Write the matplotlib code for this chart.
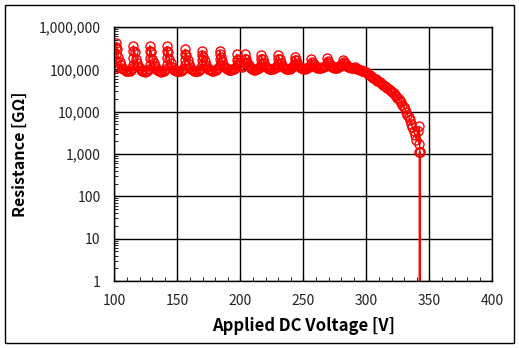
import matplotlib
matplotlib.use('Agg')
import matplotlib.pyplot as plt
from matplotlib.patches import Rectangle
from matplotlib.ticker import FuncFormatter, LogLocator, MultipleLocator

plt.rcParams['font.family'] = ['Noto Sans CJK KR', 'DejaVu Sans']

# applied voltage [V]; repeated values are readings held at one step
volts = [
    100, 101, 101.5, 101.5, 101.5, 101.5, 102, 103, 104, 105, 106, 107, 108, 109, 110, 111, 112, 113, 114,
    115, 115, 115, 115, 116, 117, 118, 119, 120, 121, 122, 123, 124, 125, 126, 127,
    128, 128, 128, 128, 129, 130, 131, 132, 133, 134, 135, 136, 137, 138, 139, 140,
    141.5, 141.5, 141.5, 141.5, 142.5, 143.5, 144.5, 145.5, 146.5, 147.5, 148.5, 149.5, 150.5, 151.5, 152.5, 153.5, 154.5,
    156, 156, 156, 156, 157, 158, 159, 160, 161, 162, 163, 164, 165, 166, 167, 168,
    169.5, 169.5, 169.5, 169.5, 170.5, 171.5, 172.5, 173.5, 174.5, 175.5, 176.5, 177.5, 178.5, 179.5, 180.5, 181.5, 182.5,
    183.5, 183.5, 183.5, 183.5, 184.5, 185.5, 186.5, 187.5, 188.5, 189.5, 190.5, 191.5, 192.5, 193.5, 194.5, 195.5,
    197, 197, 197, 198, 199, 200, 201, 202,
    203.5, 203.5, 203.5, 204.5, 205.5, 206.5, 207.5, 208.5, 209.5, 210.5, 211.5, 212.5, 213.5, 214.5, 215.5,
    216.5, 216.5, 216.5, 217.5, 218.5, 219.5, 220.5, 221.5, 222.5, 223.5, 224.5, 225.5, 226.5, 227.5, 228.5,
    230, 230, 230, 231, 232, 233, 234, 235, 236, 237, 238, 239, 240, 241, 242,
    243, 243, 243, 244, 245, 246, 247, 248, 249, 250, 251, 252, 253, 254, 255,
    256, 256, 257, 258, 259, 260, 261, 262, 263, 264, 265, 266, 267,
    268.5, 268.5, 269.5, 270.5, 271.5, 272.5, 273.5, 274.5, 275.5, 276.5, 277.5, 278.5, 279.5, 280.5,
    281.5, 281.5, 282.5, 283.5, 284.5, 285.5, 286.5, 287.5, 288.5, 289.5, 290.5,
    291.5, 292.5, 293.5, 294.5, 295.5, 296.5, 297.5, 298.5, 299.5, 300.5,
    301.5, 302.5, 303.5, 304.5, 305.5, 306.5, 307.5, 308.5, 309.5, 310.5,
    311.5, 312.5, 313.5, 314.5, 315.5, 316.5, 317.5, 318.5, 319.5, 320.5,
    321.5, 322.5, 323.5, 324.5, 325.5, 326.5, 327.5, 328.5, 329.5, 330.5,
    331.5, 332.5, 333.5, 334.5, 335.5, 336.5, 337.5, 338.5, 339.5, 340.5,
    341.5, 342.0, 342.3,
    342.3, 341.9, 341.9, 342.7, 342.7,
]

# insulation resistance [x1000 GOhm]
res_k = [
    120, 110, 160, 230, 330, 430, 300, 200, 150, 125, 110, 100, 95, 92, 90, 90, 92, 95, 105,
    130, 190, 270, 360, 260, 180, 140, 118, 105, 97, 92, 90, 88, 90, 93, 100,
    130, 190, 270, 360, 260, 180, 140, 118, 105, 97, 92, 90, 88, 90, 93, 100,
    130, 190, 270, 350, 250, 175, 138, 116, 104, 97, 93, 90, 89, 90, 92, 95, 100,
    125, 170, 230, 300, 220, 165, 132, 113, 103, 97, 93, 91, 91, 93, 96, 100,
    125, 170, 220, 265, 200, 155, 128, 112, 103, 98, 95, 93, 93, 95, 98, 102, 108,
    130, 175, 225, 270, 200, 155, 128, 113, 105, 100, 97, 96, 97, 100, 104, 110,
    130, 170, 225, 180, 145, 125, 115, 118,
    140, 180, 225, 180, 145, 125, 112, 105, 101, 99, 99, 101, 104, 108, 115,
    135, 175, 220, 175, 143, 123, 111, 105, 101, 100, 100, 102, 105, 109, 115,
    135, 175, 218, 172, 142, 123, 112, 106, 103, 102, 102, 104, 107, 111, 117,
    135, 165, 198, 165, 140, 123, 113, 108, 105, 104, 104, 106, 109, 113, 120,
    135, 172, 150, 132, 120, 113, 109, 107, 107, 109, 112, 116, 122,
    140, 185, 160, 138, 124, 116, 112, 110, 109, 110, 113, 117, 122, 130,
    140, 170, 150, 133, 122, 115, 111, 109, 108, 110, 112,
    105, 100, 104, 96, 98, 92, 93, 87, 86, 80,
    79, 73, 71, 66, 64, 60, 58, 54, 53, 49,
    48, 44, 43, 40, 38, 36, 34, 32, 30.5, 28.5,
    27, 25, 23.5, 21.5, 20, 18, 16.5, 14.5, 13, 11.5,
    10, 8.5, 7.5, 6.2, 5.2, 4.3, 3.5, 2.8, 2.2, 3.5,
    1.7, 4.5, 1.1,
    1e-8, 1e-8, 1.1, 1.1, 1e-8,
]
res = [r * 1000 for r in res_k]

fig = plt.figure(figsize=(5.19, 3.48), dpi=100)
ax = fig.add_axes([0.2206, 0.1925, 0.7283, 0.7299])

ax.plot(volts, res, color='red', lw=1.0, marker='o', ms=6.5,
        mfc='none', mec='red', mew=1.0)

ax.set_yscale('log')
ax.set_xlim(100, 400)
ax.set_ylim(1, 1e6)
ax.xaxis.set_major_locator(MultipleLocator(50))
ax.xaxis.set_minor_locator(MultipleLocator(10))
ax.yaxis.set_major_locator(LogLocator(base=10, numticks=10))
ax.yaxis.set_minor_locator(LogLocator(base=10, subs=range(2, 10), numticks=10))
ax.yaxis.set_major_formatter(FuncFormatter(lambda v, p: '{:,.0f}'.format(v)))

ax.grid(True, which='major', color='black', lw=1.0)
ax.tick_params(which='both', direction='in', colors='black',
               labelcolor='#222222', labelsize=10, top=False, right=False)
ax.tick_params(which='major', length=4)
ax.tick_params(axis='y', which='major', pad=10)
ax.tick_params(axis='x', which='major', pad=9)
ax.tick_params(which='minor', length=3)
for s in ax.spines.values():
    s.set_linewidth(1.0)

ax.set_xlabel('Applied DC Voltage [V]', fontsize=12, fontweight='bold', labelpad=7)
ax.set_ylabel('Resistance [GΩ]', fontsize=11.5, fontweight='bold', labelpad=8)

# chart border
fig.patches.append(Rectangle((5 / 519, 5 / 348), 509 / 519, 338 / 348,
                             transform=fig.transFigure, fill=False,
                             edgecolor='black', lw=1.0))

fig.savefig('out.png', dpi=100)
